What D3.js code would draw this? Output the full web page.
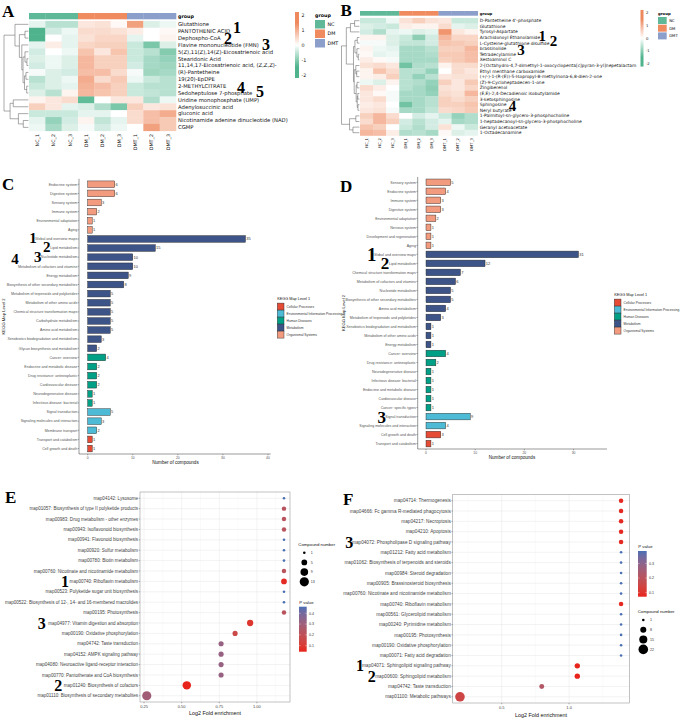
<!DOCTYPE html>
<html><head><meta charset="utf-8">
<script src="https://cdn.jsdelivr.net/npm/d3@7"></script>
<style>body{margin:0;background:#fff}svg{display:block;background:#fff}</style>
</head><body>
<svg id="fig" width="683" height="720"></svg>
<script>
// ================= DATA =================
const sampleNames = ["NC_1","NC_2","NC_3","DM_1","DM_2","DM_3","DMT_1","DMT_2","DMT_3"];
const sampleGroups = ["NC","NC","NC","DM","DM","DM","DMT","DMT","DMT"];
const groupLevels = ["NC","DM","DMT"];
const heatTicks = [2,1,0,-1,-2];

const metabolitesA = ["Glutathione","PANTOTHENIC ACID","Dephospho-CoA","Flavine mononucleotide (FMN)",
 "5(Z),11(Z),14(Z)-Eicosatrienoic acid","Stearidonic Acid","11,14,17-Eicosatrienoic acid, (Z,Z,Z)-",
 "(R)-Pantetheine","19(20)-EpDPE","2-METHYLCITRATE","Sedoheptulose 7-phosphate","Uridine monophosphate (UMP)",
 "Adenylosuccinic acid","gluconic acid","Nicotinamide adenine dinucleotide (NAD)","CGMP"];
const zA = [
 [-0.3,-0.8,-0.8, 0.4, 0.5, 0.1, 1.6,-0.4,-0.2],
 [-2.0,-0.5,-0.2, 0.6, 0.6, 0.5, 0.3, 0.0, 0.1],
 [-2.0, 0.0,-0.3, 0.5, 0.7, 0.7,-0.3, 0.0, 0.2],
 [-0.3, 0.3,-0.3, 0.7, 0.8, 0.8,-0.6,-1.5,-0.4],
 [-0.5, 0.0,-0.2, 1.0, 0.4, 1.0,-0.6,-0.8,-1.4],
 [-0.4,-0.2,-0.4, 1.2, 0.8, 0.8,-0.6,-1.0,-1.2],
 [-0.5,-0.2,-0.4, 1.2, 0.8, 0.8,-0.5,-1.0,-1.1],
 [-0.1,-0.4,-0.5, 1.1, 1.1, 0.6,-0.1,-1.1,-1.0],
 [-0.8,-0.4,-0.2, 1.4, 0.6, 0.9,-0.2,-0.6,-0.8],
 [-0.6,-0.4,-0.3, 1.3, 1.1, 0.8,-0.6,-0.8,-0.8],
 [-0.4,-0.8, 0.2, 1.2, 1.0, 0.8,-0.6,-0.7,-0.8],
 [ 0.2, 0.4, 0.6,-1.8, 0.0, 0.4, 0.4,-0.9,-0.2],
 [ 0.8, 0.4,-0.3,-0.4,-0.9,-1.5, 0.8, 0.4, 0.5],
 [-0.6,-0.6,-0.6,-0.3,-0.3, 0.0, 0.6, 1.1, 1.4],
 [-0.3,-1.2,-0.5, 0.2,-0.7,-0.3, 0.6, 1.1, 0.9],
 [-0.2,-1.0,-0.4,-0.1,-0.5,-0.2, 0.0, 1.6, 0.9]];
// dendrogram: [height, left, right]
const treeA = [10,
 [5.5, "Glutathione",
  [3.7, [1.4, "PANTOTHENIC ACID", "Dephospho-CoA"],
   [2.7, "Flavine mononucleotide (FMN)",
    [2.2, [1.4, "5(Z),11(Z),14(Z)-Eicosatrienoic acid", [0.6, "Stearidonic Acid", "11,14,17-Eicosatrienoic acid, (Z,Z,Z)-"]],
          [1.6, [1.0, "(R)-Pantetheine", "19(20)-EpDPE"], [0.7, "2-METHYLCITRATE", "Sedoheptulose 7-phosphate"]]]]]],
 [7.5, [6.2, "Uridine monophosphate (UMP)", "Adenylosuccinic acid"],
       [4.1, "gluconic acid", [2.1, "Nicotinamide adenine dinucleotide (NAD)", "CGMP"]]]];

const metabolitesB = ["D-Pantetheine 4'-phosphate","Glutathione","Tyrosyl-Aspartate","Arachidonoyl Ethanolamide",
 "L-Cysteine-glutathione disulfide","brassinolide","Tetradecylamine","Xestoaminol C",
 "2-[Octahydro-4,7-dimethyl-1-oxocyclopenta[c]pyran-3-yl]nepetalactam","Ethyl menthane carboxamide",
 "(+/-)-1-(R-(E))-5-Isopropyl-8-methylnona-6,8-dien-2-one","(Z)-9-Cycloheptadecen-1-one","Zingiberenol",
 "(E,E)-2,4-Decadienoic isobutylamide","3-ketosphingosine","Sphingosine","Neryl butyrate",
 "1-Palmitoyl-sn-glycero-3-phosphocholine","1-heptadecanoyl-sn-glycero-3-phosphocholine",
 "Geranyl acetoacetate","1-Octadecanamine"];
const zB = [
 [-0.6,-0.6,-0.2, 0.5, 0.8, 0.5, 0.4,-0.6,-0.6],
 [-0.4,-0.5,-0.6, 0.3, 0.2, 0.2, 0.6,-0.3,-0.4],
 [-0.5,-0.9,-0.3,-0.2,-0.4,-0.3, 1.8, 0.4, 0.2],
 [ 0.2, 0.2,-0.4,-0.6,-1.3,-0.5, 1.2, 0.7, 0.7],
 [-0.1,-0.1,-0.4,-0.7,-0.7,-0.5, 1.0, 0.9, 0.8],
 [ 0.2,-0.2,-0.3,-1.0,-1.0,-0.8, 0.8, 0.8, 1.2],
 [ 0.1,-0.3,-0.2,-1.0,-1.0,-0.9, 0.9, 0.9, 1.1],
 [ 0.3, 0.1,-0.1,-1.0,-1.0,-1.0, 0.8, 0.9, 1.1],
 [ 0.5, 0.6, 0.4,-1.6,-0.9,-0.8, 0.2, 0.6, 0.6],
 [ 0.2, 1.0, 0.6,-0.8,-0.8,-1.2, 0.0, 0.6, 0.4],
 [ 0.2, 0.3, 0.8,-0.8,-1.2,-0.8, 0.4, 0.5, 0.5],
 [-0.2,-0.4, 0.2,-0.8,-0.9,-1.2, 0.8, 0.4, 0.9],
 [ 0.6, 0.3, 0.0,-0.8,-1.0,-1.3, 0.5, 0.4, 0.7],
 [ 0.4, 0.1,-0.1,-1.0,-1.0,-1.2, 0.6, 0.5, 1.2],
 [ 0.4, 0.6,-0.1,-1.0,-1.0,-0.8, 0.8, 0.6, 0.8],
 [ 0.3, 0.4, 0.0,-1.6,-1.0,-0.8, 0.8, 0.8, 1.0],
 [ 0.4, 0.5,-0.1,-1.0,-1.0,-0.7, 0.6, 0.7, 0.9],
 [ 0.8, 1.2, 0.6, 0.0,-0.5,-0.3,-0.6,-1.2,-0.9],
 [ 0.6, 1.2, 0.8,-0.5,-0.8,-0.5,-0.3,-1.0,-0.9],
 [ 1.0, 0.8, 0.0,-0.6,-0.9,-0.5, 0.5,-0.2,-0.6],
 [ 1.2, 1.1, 0.3,-0.9,-0.8,-1.0, 0.1,-0.4,-0.3]];
const treeB = [10,
 [7.3, [5.0, [2.7, "D-Pantetheine 4'-phosphate", "Glutathione"], "Tyrosyl-Aspartate"],
  [3.3, [2.5, [1.2, "Arachidonoyl Ethanolamide", "L-Cysteine-glutathione disulfide"],
              [1.4, "brassinolide", [0.6, "Tetradecylamine", "Xestoaminol C"]]],
        [2.9, [2.0, "2-[Octahydro-4,7-dimethyl-1-oxocyclopenta[c]pyran-3-yl]nepetalactam",
                    [1.5, "Ethyl menthane carboxamide", "(+/-)-1-(R-(E))-5-Isopropyl-8-methylnona-6,8-dien-2-one"]],
              [1.8, [1.3, "(Z)-9-Cycloheptadecen-1-one", "Zingiberenol"],
                    [1.2, [0.9, "(E,E)-2,4-Decadienoic isobutylamide", "3-ketosphingosine"],
                          [0.8, "Sphingosine", "Neryl butyrate"]]]]]],
 [5.5, [2.0, "1-Palmitoyl-sn-glycero-3-phosphocholine", "1-heptadecanoyl-sn-glycero-3-phosphocholine"],
       [3.6, "Geranyl acetoacetate", "1-Octadecanamine"]]];

const kegg1Levels = ["Cellular Processes","Environmental Information Processing","Human Diseases","Metabolism","Organismal Systems"];

const kegg2C = ["Endocrine system","Digestive system","Sensory system","Immune system","Environmental adaptation","Aging",
 "Global and overview maps","Lipid metabolism","Nucleotide metabolism","Metabolism of cofactors and vitamins","Energy metabolism",
 "Biosynthesis of other secondary metabolites","Metabolism of terpenoids and polyketides","Metabolism of other amino acids",
 "Chemical structure transformation maps","Carbohydrate metabolism","Amino acid metabolism","Xenobiotics biodegradation and metabolism",
 "Glycan biosynthesis and metabolism","Cancer: overview","Endocrine and metabolic disease","Drug resistance: antineoplastic",
 "Cardiovascular disease","Neurodegenerative disease","Infectious disease: bacterial","Signal transduction",
 "Signaling molecules and interaction","Membrane transport","Transport and catabolism","Cell growth and death"];
const countC = [6,6,3,2,1,1,35,15,10,10,9,8,5,5,5,5,5,3,2,4,2,2,2,1,1,5,3,2,1,1];
const kegg1C = ["Organismal Systems","Organismal Systems","Organismal Systems","Organismal Systems","Organismal Systems","Organismal Systems",
 "Metabolism","Metabolism","Metabolism","Metabolism","Metabolism","Metabolism","Metabolism","Metabolism","Metabolism","Metabolism","Metabolism","Metabolism","Metabolism",
 "Human Diseases","Human Diseases","Human Diseases","Human Diseases","Human Diseases","Human Diseases",
 "Environmental Information Processing","Environmental Information Processing","Environmental Information Processing",
 "Cellular Processes","Cellular Processes"];
const ticksC = [0,10,20,30,40];

const kegg2D = ["Sensory system","Endocrine system","Immune system","Digestive system","Environmental adaptation","Nervous system",
 "Development and regeneration","Aging","Global and overview maps","Lipid metabolism","Chemical structure transformation maps",
 "Metabolism of cofactors and vitamins","Nucleotide metabolism","Biosynthesis of other secondary metabolites","Amino acid metabolism",
 "Metabolism of terpenoids and polyketides","Xenobiotics biodegradation and metabolism","Metabolism of other amino acids","Energy metabolism",
 "Cancer: overview","Drug resistance: antineoplastic","Neurodegenerative disease","Infectious disease: bacterial",
 "Endocrine and metabolic disease","Cardiovascular disease","Cancer: specific types","Signal transduction",
 "Signaling molecules and interaction","Cell growth and death","Transport and catabolism"];
const countD = [5,4,3,3,2,1,1,1,31,12,7,6,5,5,4,3,1,1,1,4,2,1,1,1,1,1,9,4,3,1];
const kegg1D = ["Organismal Systems","Organismal Systems","Organismal Systems","Organismal Systems","Organismal Systems","Organismal Systems","Organismal Systems","Organismal Systems",
 "Metabolism","Metabolism","Metabolism","Metabolism","Metabolism","Metabolism","Metabolism","Metabolism","Metabolism","Metabolism","Metabolism",
 "Human Diseases","Human Diseases","Human Diseases","Human Diseases","Human Diseases","Human Diseases","Human Diseases",
 "Environmental Information Processing","Environmental Information Processing",
 "Cellular Processes","Cellular Processes"];
const ticksD = [0,10,20,30];

const pathE = ["map04142: Lysosome","map01057: Biosynthesis of type II polyketide products","map00983: Drug metabolism - other enzymes",
 "map00943: Isoflavonoid biosynthesis","map00941: Flavonoid biosynthesis","map00920: Sulfur metabolism","map00780: Biotin metabolism",
 "map00760: Nicotinate and nicotinamide metabolism","map00740: Riboflavin metabolism","map00523: Polyketide sugar unit biosynthesis",
 "map00522: Biosynthesis of 12-, 14- and 16-membered macrolides","map00195: Photosynthesis","map04977: Vitamin digestion and absorption",
 "map00190: Oxidative phosphorylation","map04742: Taste transduction","map04152: AMPK signaling pathway",
 "map04080: Neuroactive ligand-receptor interaction","map00770: Pantothenate and CoA biosynthesis","map01240: Biosynthesis of cofactors",
 "map01110: Biosynthesis of secondary metabolites"];
const foldE = [1.18,1.18,1.18,1.18,1.18,1.18,1.18,1.18,1.18,1.18,1.18,1.18,0.955,0.855,0.762,0.762,0.762,0.762,0.534,0.268];
const countE = [1,3,3,3,1,1,1,3,5,1,1,3,6,4,4,4,4,4,11,13];
const pvalE = [0.461,0.22,0.22,0.22,0.461,0.461,0.461,0.22,0.06,0.461,0.461,0.22,0.09,0.16,0.32,0.32,0.32,0.32,0.044,0.29];
const foldTicksE = [0.25,0.5,0.75,1.0];
const sizeBreaksE = [1,5,9,13];
const pBreaksE = [0.1,0.2,0.3,0.4];

const pathF = ["map04714: Thermogenesis","map04666: Fc gamma R-mediated phagocytosis","map04217: Necroptosis","map04210: Apoptosis",
 "map04072: Phospholipase D signaling pathway","map01212: Fatty acid metabolism","map01062: Biosynthesis of terpenoids and steroids",
 "map00984: Steroid degradation","map00905: Brassinosteroid biosynthesis","map00760: Nicotinate and nicotinamide metabolism",
 "map00740: Riboflavin metabolism","map00561: Glycerolipid metabolism","map00240: Pyrimidine metabolism","map00195: Photosynthesis",
 "map00190: Oxidative phosphorylation","map00071: Fatty acid degradation","map04071: Sphingolipid signaling pathway",
 "map00600: Sphingolipid metabolism","map04742: Taste transduction","map01100: Metabolic pathways"];
const foldF = [1.386,1.386,1.386,1.386,1.386,1.386,1.386,1.386,1.386,1.386,1.386,1.386,1.386,1.386,1.386,1.386,1.061,1.061,0.797,0.19];
const countF = [4,4,4,4,4,1,1,1,1,1,4,1,1,1,1,1,6,6,5,22];
const pvalF = [0.08,0.08,0.08,0.08,0.08,0.385,0.385,0.385,0.385,0.385,0.08,0.385,0.385,0.385,0.385,0.385,0.072,0.072,0.22,0.15];
const foldTicksF = [0.5,1.0];
const sizeBreaksF = [1,8,15,22];
const pBreaksF = [0.1,0.2,0.3];

// ================= STYLE / LAYOUT =================
const FS = "'DejaVu Sans', sans-serif";
const FA = "'Liberation Sans', Arial, sans-serif";
const FSER = "'Liberation Serif', 'Times New Roman', serif";
const grpColor = d3.scaleOrdinal().domain(groupLevels).range(["#5fb898","#f08a5f","#8c9fcb"]);
const heatColor = d3.scaleLinear().domain([-2,0,2]).range(["#4fb48d","#ffffff","#ee895d"]).clamp(true);
const keggColor = d3.scaleOrdinal().domain(kegg1Levels).range(["#E64B35","#4DBBD5","#00A087","#3C5488","#F39B7F"]);

const svg = d3.select("#fig");
const defs = svg.append("defs");
svg.append("rect").attr("width",683).attr("height",720).attr("fill","#fff");

function vGradient(id, colorFn, vals) {
  const gr = defs.append("linearGradient").attr("id", id).attr("x1",0).attr("x2",0).attr("y1",0).attr("y2",1);
  vals.forEach((v,i)=> gr.append("stop").attr("offset", i/(vals.length-1)).attr("stop-color", colorFn(v)));
}

// ================= HEATMAPS =================
function heatmap(rows, z, tree, L) {
  const g = svg.append("g");
  const x = d3.scaleBand().domain(sampleNames).range([L.x0, L.x1]);
  const y = d3.scaleBand().domain(rows).range([L.y0, L.y1]);
  g.selectAll("rect.grp").data(sampleNames).join("rect")
    .attr("x", d=>x(d)).attr("y", L.gy0).attr("width", x.bandwidth()+0.3).attr("height", L.gy1-L.gy0)
    .attr("fill", (d,i)=>grpColor(sampleGroups[i]));
  g.append("text").attr("x", L.x1+2).attr("y",(L.gy0+L.gy1)/2).attr("dy","0.35em")
    .attr("font-family",FS).attr("font-weight","bold").attr("font-size",L.fs).text("group");
  const cells = [];
  rows.forEach((r,i)=> z[i].forEach((v,j)=> cells.push({r, s:sampleNames[j], v})));
  g.selectAll("rect.cell").data(cells).join("rect")
    .attr("x", d=>x(d.s)).attr("y", d=>y(d.r)).attr("width", x.bandwidth()+0.3).attr("height", y.bandwidth()+0.3)
    .attr("fill", d=>heatColor(d.v));
  g.selectAll("text.row").data(rows).join("text")
    .attr("x", L.x1+2).attr("y", d=>y(d)+y.bandwidth()/2).attr("dy","0.35em")
    .attr("font-family",FS).attr("font-size",L.rfs).attr("fill","#111").text(d=>d);
  g.selectAll("text.col").data(sampleNames).join("text")
    .attr("transform", d=>`translate(${x(d)+x.bandwidth()/2},${L.colY}) rotate(-90)`)
    .attr("text-anchor","end").attr("dy","0.35em")
    .attr("font-family",FS).attr("font-size",L.fs).attr("fill","#111").text(d=>d);
  // dendrogram
  const ts = d3.scaleLinear().domain([0,10]).range([L.x0-0.6, L.tx]);
  function walk(n) {
    if (typeof n === "string") return {x: ts(0), y: y(n)+y.bandwidth()/2};
    const a = walk(n[1]), b = walk(n[2]);
    const px = ts(n[0]);
    g.append("path").attr("d", `M${a.x},${a.y}H${px}V${b.y}H${b.x}`)
      .attr("fill","none").attr("stroke","#555").attr("stroke-width",0.5);
    return {x:px, y:(a.y+b.y)/2};
  }
  walk(tree);
  // color legend
  const ly = d3.scaleLinear().domain([2,-2]).range([L.lgY0, L.lgY1]);
  const gid = "hg"+L.id;
  vGradient(gid, heatColor, [2.2,2,1,0,-1,-2,-2.2]);
  g.append("rect").attr("x",L.lgX).attr("y",ly(2.2)).attr("width",L.lgW).attr("height",ly(-2.2)-ly(2.2))
    .attr("fill",`url(#${gid})`);
  g.selectAll("text.lg").data(heatTicks).join("text")
    .attr("x", L.lgX+L.lgW+2.5).attr("y", d=>ly(d)).attr("dy","0.35em")
    .attr("font-family",FS).attr("font-size",L.fs).attr("fill","#222").text(d=>d);
  // group legend
  g.append("text").attr("x",L.gX).attr("y",L.gTitleY).attr("dy","0.35em")
    .attr("font-family",FS).attr("font-weight","bold").attr("font-size",L.fs).text("group");
  groupLevels.forEach((lv,i)=>{
    g.append("rect").attr("x",L.gX).attr("y",L.gY0+i*L.gStep).attr("width",L.gW).attr("height",L.gH).attr("fill",grpColor(lv));
    g.append("text").attr("x",L.gX+L.gW+2.5).attr("y",L.gY0+i*L.gStep+L.gH/2).attr("dy","0.35em")
      .attr("font-family",FS).attr("font-size",L.fs).text(lv);
  });
}

heatmap(metabolitesA, zA, treeA, {id:"A", x0:29, x1:176, gy0:13, gy1:19.3, y0:20.9, y1:130.8, fs:4.8, rfs:5.3, colY:134, tx:4,
  lgX:295, lgW:4, lgY0:15, lgY1:75, gX:315, gTitleY:15.5, gY0:20, gStep:9.5, gH:8.5, gW:10});
heatmap(metabolitesB, zB, treeB, {id:"B", x0:360, x1:477.7, gy0:11, gy1:15.7, y0:17.9, y1:135.5, fs:3.8, rfs:4.4, colY:138, tx:341.5,
  lgX:640.5, lgW:3, lgY0:12.5, lgY1:64, gX:658, gTitleY:13.3, gY0:17, gStep:7.7, gH:7, gW:8.7});

// ================= BAR CHARTS =================
function bars(names, counts, lv1, ticks, L) {
  const g = svg.append("g");
  const x = d3.scaleLinear().domain(L.xDom).range([L.ax, L.xEnd]);
  const y = d3.scalePoint().domain(names).range([L.yTop, L.yBot]).padding(0.6);
  const bh = y.step()*0.73;
  const rows = names.map((n,i)=>({n, c:counts[i], k:lv1[i]}));
  g.selectAll("rect.bar").data(rows).join("rect")
    .attr("x", x(0)).attr("y", d=>y(d.n)-bh/2).attr("width", d=>x(d.c)-x(0)).attr("height", bh)
    .attr("fill", d=>keggColor(d.k)).attr("stroke","#2b2b2b").attr("stroke-width",0.45);
  g.selectAll("text.val").data(rows).join("text")
    .attr("x", d=>x(d.c)+0.7).attr("y", d=>y(d.n)).attr("dy","0.35em")
    .attr("font-family",FA).attr("font-size",4).attr("fill","#333").text(d=>d.c);
  // axes
  g.append("line").attr("x1",L.ax).attr("x2",L.ax).attr("y1",L.yTop).attr("y2",L.yBot).attr("stroke","#333").attr("stroke-width",0.5);
  g.append("line").attr("x1",L.ax).attr("x2",L.xEnd).attr("y1",L.yBot).attr("y2",L.yBot).attr("stroke","#333").attr("stroke-width",0.5);
  g.selectAll("line.yt").data(names).join("line")
    .attr("x1",L.ax-1.3).attr("x2",L.ax).attr("y1",d=>y(d)).attr("y2",d=>y(d)).attr("stroke","#333").attr("stroke-width",0.4);
  g.selectAll("text.yl").data(names).join("text")
    .attr("x",L.ax-1.8).attr("y",d=>y(d)).attr("dy","0.35em").attr("text-anchor","end")
    .attr("font-family",FA).attr("font-size",3.6).attr("fill","#555").text(d=>d);
  g.selectAll("line.xt").data(ticks).join("line")
    .attr("x1",d=>x(d)).attr("x2",d=>x(d)).attr("y1",L.yBot).attr("y2",L.yBot+1.3).attr("stroke","#333").attr("stroke-width",0.4);
  g.selectAll("text.xl").data(ticks).join("text")
    .attr("x",d=>x(d)).attr("y",L.yBot+3.6).attr("dy","0.35em").attr("text-anchor","middle")
    .attr("font-family",FA).attr("font-size",3.4).attr("fill","#555").text(d=>d);
  g.append("text").attr("x",L.titleX).attr("y",L.titleY).attr("dy","0.35em").attr("text-anchor","middle")
    .attr("font-family",FA).attr("font-size",4.6).attr("fill","#111").text("Number of compounds");
  g.append("text").attr("transform",`translate(${L.ylabX},${(L.yTop+L.yBot)/2}) rotate(-90)`).attr("dy","0.35em")
    .attr("text-anchor","middle").attr("font-family",FA).attr("font-size",4.2).attr("fill","#111").text("KEGG Map Level 2");
  // legend
  g.append("text").attr("x",L.lgX).attr("y",L.lgY).attr("dy","0.35em")
    .attr("font-family",FA).attr("font-size",3.8).attr("fill","#111").text("KEGG Map Level 1");
  kegg1Levels.forEach((k,i)=>{
    g.append("rect").attr("x",L.lgX).attr("y",L.lgY+4.8+i*7).attr("width",6.7).attr("height",7)
      .attr("fill",keggColor(k)).attr("stroke","#2b2b2b").attr("stroke-width",0.45);
    g.append("text").attr("x",L.lgX+9.3).attr("y",L.lgY+8.3+i*7).attr("dy","0.35em")
      .attr("font-family",FA).attr("font-size",3.3).attr("fill","#333").text(k);
  });
}
bars(kegg2C, countC, kegg1C, ticksC, {ax:79, xEnd:270.7, xDom:[-1.93,40.6], yTop:178.8, yBot:454,
  titleX:175.5, titleY:462.5, ylabX:3.8, lgX:277.3, lgY:298.3});
bars(kegg2D, countD, kegg1D, ticksD, {ax:417.7, xEnd:607, xDom:[-1.69,36.8], yTop:176.9, yBot:449,
  titleX:512, titleY:457.8, ylabX:343.5, lgX:614.3, lgY:294.3});

// ================= DOT PLOTS =================
function dots(paths, fold, count, pv, fTicks, fTickLab, minor, sBreaks, pBreaks, L) {
  const g = svg.append("g");
  const x = d3.scaleLinear().domain(L.xDom).range([L.x0, L.x1]);
  const y = d3.scalePoint().domain(paths).range([L.y0, L.y1]).padding(0.6);
  const r = d3.scaleSqrt().domain([1, d3.max(count)]).range([1.3, L.rMax]);
  const pDom = d3.extent(pv);
  const pc = d3.scaleLinear().domain(pDom).range(["#e8231c","#4a6fb4"]).interpolate(d3.interpolateLab);
  g.append("rect").attr("x",L.x0).attr("y",L.y0).attr("width",L.x1-L.x0).attr("height",L.y1-L.y0).attr("fill","#fff");
  g.selectAll("line.mn").data(minor).join("line")
    .attr("x1",d=>x(d)).attr("x2",d=>x(d)).attr("y1",L.y0).attr("y2",L.y1).attr("stroke","#f3f3f3").attr("stroke-width",0.35);
  g.selectAll("line.mjx").data(fTicks).join("line")
    .attr("x1",d=>x(d)).attr("x2",d=>x(d)).attr("y1",L.y0).attr("y2",L.y1).attr("stroke","#e6e6e6").attr("stroke-width",0.5);
  g.selectAll("line.mjy").data(paths).join("line")
    .attr("x1",L.x0).attr("x2",L.x1).attr("y1",d=>y(d)).attr("y2",d=>y(d)).attr("stroke","#e6e6e6").attr("stroke-width",0.5);
  const rows = paths.map((p,i)=>({p, f:fold[i], c:count[i], v:pv[i]}));
  g.selectAll("circle.pt").data(rows).join("circle")
    .attr("cx",d=>x(d.f)).attr("cy",d=>y(d.p)).attr("r",d=>r(d.c)).attr("fill",d=>pc(d.v));
  g.append("rect").attr("x",L.x0).attr("y",L.y0).attr("width",L.x1-L.x0).attr("height",L.y1-L.y0)
    .attr("fill","none").attr("stroke","#9a9a9a").attr("stroke-width",0.6);
  g.selectAll("line.yt").data(paths).join("line")
    .attr("x1",L.x0-1.3).attr("x2",L.x0).attr("y1",d=>y(d)).attr("y2",d=>y(d)).attr("stroke","#444").attr("stroke-width",0.4);
  g.selectAll("text.yl").data(paths).join("text")
    .attr("x",L.x0-1.9).attr("y",d=>y(d)).attr("dy","0.35em").attr("text-anchor","end")
    .attr("font-family",FA).attr("font-size",L.lfs).attr("fill","#444").text(d=>d);
  g.selectAll("line.xt").data(fTicks).join("line")
    .attr("x1",d=>x(d)).attr("x2",d=>x(d)).attr("y1",L.y1).attr("y2",L.y1+1.3).attr("stroke","#444").attr("stroke-width",0.4);
  g.selectAll("text.xl").data(fTicks).join("text")
    .attr("x",d=>x(d)).attr("y",L.y1+4.4).attr("dy","0.35em").attr("text-anchor","middle")
    .attr("font-family",FA).attr("font-size",4).attr("fill","#444").text((d,i)=>fTickLab[i]);
  g.append("text").attr("x",(L.x0+L.x1)/2).attr("y",L.titleY).attr("dy","0.35em").attr("text-anchor","middle")
    .attr("font-family",FA).attr("font-size",5.4).attr("fill","#111").text("Log2 Fold enrichment");
  // size legend
  g.append("text").attr("x",L.sTitleX).attr("y",L.sTitleY).attr("dy","0.35em")
    .attr("font-family",FA).attr("font-size",4.3).attr("fill","#111").text("Compound number");
  sBreaks.forEach((b,i)=>{
    g.append("circle").attr("cx",L.sX).attr("cy",L.sY0+i*L.sStep).attr("r",r(b)).attr("fill","#000");
    g.append("text").attr("x",L.sLabX).attr("y",L.sY0+i*L.sStep).attr("dy","0.35em")
      .attr("font-family",FA).attr("font-size",3.6).attr("fill","#333").text(b);
  });
  // p legend
  g.append("text").attr("x",L.pTitleX).attr("y",L.pTitleY).attr("dy","0.35em")
    .attr("font-family",FA).attr("font-size",4.3).attr("fill","#111").text("P value");
  const gid = "pg"+L.id;
  vGradient(gid, pc, d3.range(0,11).map(i=>pDom[1]-(pDom[1]-pDom[0])*i/10));
  g.append("rect").attr("x",L.bX).attr("y",L.bTop).attr("width",L.bW).attr("height",L.bBot-L.bTop).attr("fill",`url(#${gid})`);
  const py = d3.scaleLinear().domain(pDom).range([L.bBot, L.bTop]);
  pBreaks.forEach(b=>{
    g.append("line").attr("x1",L.bX).attr("x2",L.bX+1.5).attr("y1",py(b)).attr("y2",py(b)).attr("stroke","#fff").attr("stroke-width",0.4);
    g.append("line").attr("x1",L.bX+L.bW-1.5).attr("x2",L.bX+L.bW).attr("y1",py(b)).attr("y2",py(b)).attr("stroke","#fff").attr("stroke-width",0.4);
    g.append("text").attr("x",L.bX+L.bW+2.3).attr("y",py(b)).attr("dy","0.35em")
      .attr("font-family",FA).attr("font-size",3.6).attr("fill","#333").text(b);
  });
}
dots(pathE, foldE, countE, pvalE, foldTicksE, ["0.25","0.50","0.75","1.00"], [0.375,0.625,0.875,1.125], sizeBreaksE, pBreaksE,
  {id:"E", x0:140, x1:290, y0:492, y1:702, xDom:[0.223,1.22], rMax:4.6, titleY:713.5, lfs:4.55,
   sTitleX:298.3, sTitleY:544.3, sX:304.3, sY0:552.7, sStep:9.7, sLabX:310.8,
   pTitleX:299.3, pTitleY:602.7, bX:299, bW:7.7, bTop:606.7, bBot:651.7});
dots(pathF, foldF, countF, pvalF, foldTicksF, ["0.5","1.0"], [0.25,0.75,1.25], sizeBreaksF, pBreaksF,
  {id:"F", x0:452.7, x1:629.3, y0:494.5, y1:703, xDom:[0.136,1.447], rMax:4.8, titleY:715, lfs:4.7,
   sTitleX:637.7, sTitleY:611, sX:643.3, sY0:620, sStep:9.8, sLabX:650,
   pTitleX:638.3, pTitleY:546.7, bX:638, bW:8.7, bTop:551, bBot:596.7});

// ================= PANEL LETTERS & ANNOTATION NUMBERS =================
const panelLetters = [["A",2,17],["B",340.5,15.5],["C",2,190],["D",340,191.5],["E",5,503],["F",343,505]];
panelLetters.forEach(([t,x,y])=> svg.append("text").attr("x",x).attr("y",y)
  .attr("font-family",FSER).attr("font-weight","bold").attr("font-size",17).attr("fill","#000").text(t));
const marks = [
 ["1",237,27.5,16],["2",228,38,16],["3",266,44.5,16],["4",241,87,16],["5",260,91.3,16],
 ["1",542.3,35.3,15],["2",553.5,40.8,15],["3",521,50,15],["4",512.5,106.2,15],
 ["1",33,237.3,15],["2",46.7,246.7,15],["3",37.7,256.7,15],["4",15,258.3,15],
 ["1",371.7,254,19],["2",385,263.3,17],["3",381.7,417.3,17],
 ["1",65,581.7,16],["3",41.7,623.3,16],["2",58.3,685,16],
 ["1",360,665,16],["2",371.7,676.7,16],["3",349.3,542.3,16]];
marks.forEach(([t,x,y,s])=> svg.append("text").attr("x",x).attr("y",y).attr("dy","0.35em").attr("text-anchor","middle")
  .attr("font-family",FSER).attr("font-weight","bold").attr("font-size",s).attr("fill","#000").text(t));
</script>
</body></html>
